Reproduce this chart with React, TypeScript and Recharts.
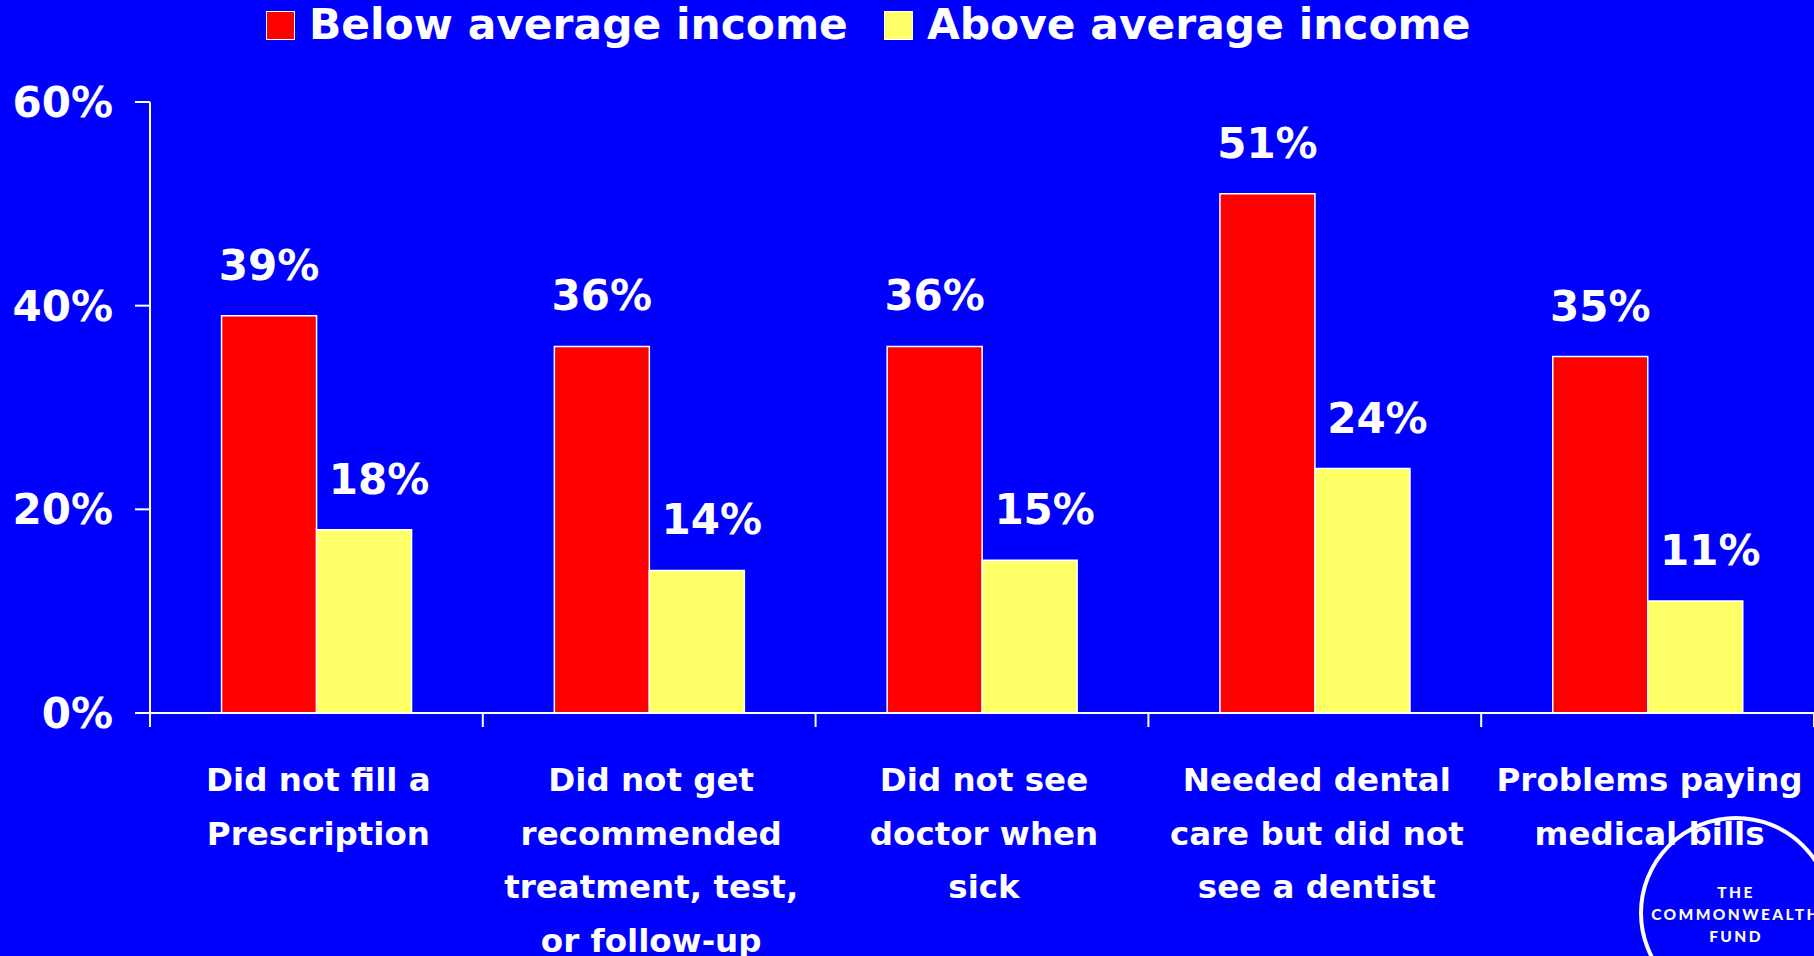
import React from 'react';
import { BarChart, Bar, XAxis, YAxis, Legend, LabelList } from 'recharts';

const categories = [
  'Did not fill a\nPrescription',
  'Did not get\nrecommended\ntreatment, test,\nor follow-up',
  'Did not see\ndoctor when\nsick',
  'Needed dental\ncare but did not\nsee a dentist',
  'Problems paying\nmedical bills',
];
const belowAverage = [39, 36, 36, 51, 35];
const aboveAverage = [18, 14, 15, 24, 11];
const yTicks = [0, 20, 40, 60];
const seriesNames = ['Below average income', 'Above average income'];

const data = categories.map((name, i) => ({ name, below: belowAverage[i], above: aboveAverage[i] }));

const FONT = '"DejaVu Sans", Verdana, sans-serif';
const BG = '#0000FF';
const RED = '#FF0000';
const YELLOW = '#FFFF66';

const CategoryTick = (props: any) => {
  const { x, y, payload, index, visibleTicksCount, width } = props;
  const half = (payload && payload.offset) || (width / visibleTicksCount / 2) || 0;
  const lines = String(payload.value).split('\n');
  const isLast = index === visibleTicksCount - 1;
  return (
    <g>
      <line x1={x - half} x2={x - half} y1={y} y2={y + 14} stroke="#fff" strokeWidth={2} />
      {isLast && <line x1={x + half} x2={x + half} y1={y} y2={y + 14} stroke="#fff" strokeWidth={2} />}
      {lines.map((ln, i) => (
        <text
          key={i}
          x={x + 2}
          y={y + 78 + i * 53.6}
          textAnchor="middle"
          fill="#fff"
          fontFamily={FONT}
          fontWeight={700}
          fontSize={32.5}
        >
          {ln}
        </text>
      ))}
    </g>
  );
};

const makeLabel = (dx: number) => (p: any) => {
  const { x, y, width, value } = p;
  return (
    <text
      x={x + width / 2 + dx}
      y={y - 36}
      textAnchor="middle"
      fill="#fff"
      fontFamily={FONT}
      fontWeight={700}
      fontSize={42}
    >
      {`${value}%`}
    </text>
  );
};

const LegendContent = () => {
  const colors = [RED, YELLOW];
  return (
    <div style={{ display: 'flex', alignItems: 'center', marginLeft: 266, height: 50 }}>
      {seriesNames.map((n, i) => (
        <div key={n} style={{ display: 'flex', alignItems: 'center', marginRight: i === 0 ? 36 : 0 }}>
          <div
            style={{
              width: 27,
              height: 27,
              background: colors[i],
              border: '1.5px solid #fff',
              marginRight: 14,
            }}
          />
          <span style={{ color: '#fff', fontFamily: FONT, fontWeight: 700, fontSize: 42.4, lineHeight: '50px', whiteSpace: 'nowrap' }}>
            {n}
          </span>
        </div>
      ))}
    </div>
  );
};

export default function App() {
  return (
    <div style={{ position: 'relative', width: 1814, height: 956, background: BG, overflow: 'hidden' }}>
      <style>{`html,body{margin:0;padding:0;background:${BG};}`}</style>
      <BarChart
        width={1814}
        height={956}
        data={data}
        margin={{ top: 102, right: 0, bottom: 0, left: 0 }}
        barCategoryGap="21.5%"
        barGap={0}
      >
        <Legend
          layout="horizontal"
          verticalAlign="middle"
          align="center"
          content={<LegendContent />}
          wrapperStyle={{ top: 0, left: 0, width: 1814, height: 50 }}
        />
        <XAxis
          dataKey="name"
          height={243}
          interval={0}
          tickLine={false}
          tickSize={0}
          tickMargin={0}
          axisLine={{ stroke: '#fff', strokeWidth: 2 }}
          tick={<CategoryTick />}
        />
        <YAxis
          width={150}
          domain={[0, 60]}
          ticks={yTicks}
          interval={0}
          tickSize={15}
          tickMargin={22}
          tickFormatter={(v: number) => `${v}%`}
          axisLine={{ stroke: '#fff', strokeWidth: 2 }}
          tickLine={{ stroke: '#fff', strokeWidth: 2 }}
          tick={{ fill: '#fff', fontSize: 42, fontWeight: 700, fontFamily: FONT }}
        />
        <Bar dataKey="below" name={seriesNames[0]} fill={RED} stroke="#fff" strokeWidth={1.5} isAnimationActive={false}>
          <LabelList dataKey="below" content={makeLabel(0)} />
        </Bar>
        <Bar dataKey="above" name={seriesNames[1]} fill={YELLOW} stroke="#fff" strokeWidth={1.5} isAnimationActive={false}>
          <LabelList dataKey="above" content={makeLabel(15)} />
        </Bar>
      </BarChart>
      <svg
        width={1814}
        height={956}
        style={{ position: 'absolute', left: 0, top: 0, pointerEvents: 'none' }}
      >
        <circle cx={1736} cy={913} r={95} fill="none" stroke="#fff" strokeWidth={4} />
        <g fill="#fff" fontFamily="Lato, 'Open Sans', sans-serif" fontWeight={900} fontSize={15.5} textAnchor="middle" letterSpacing={2.4}>
          <text x={1736} y={898}>THE</text>
          <text x={1736} y={920}>COMMONWEALTH</text>
          <text x={1736} y={942}>FUND</text>
        </g>
      </svg>
    </div>
  );
}
